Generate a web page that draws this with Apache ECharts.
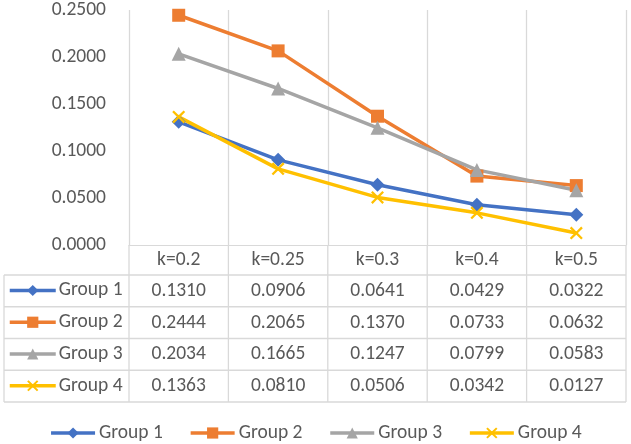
<!DOCTYPE html>
<html>
<head>
<meta charset="utf-8">
<script src="https://cdn.jsdelivr.net/npm/echarts@6/dist/echarts.min.js"></script>
<style>
  html, body { margin: 0; padding: 0; background: #ffffff; }
  #chart { width: 631px; height: 444px; }
</style>
</head>
<body>
<div id="chart"></div>
<script>
const categories = ['k=0.2', 'k=0.25', 'k=0.3', 'k=0.4', 'k=0.5'];
const seriesNames = ['Group 1', 'Group 2', 'Group 3', 'Group 4'];
const group1 = [0.1310, 0.0906, 0.0641, 0.0429, 0.0322];
const group2 = [0.2444, 0.2065, 0.1370, 0.0733, 0.0632];
const group3 = [0.2034, 0.1665, 0.1247, 0.0799, 0.0583];
const group4 = [0.1363, 0.0810, 0.0506, 0.0342, 0.0127];
const yTicks = [0, 0.05, 0.10, 0.15, 0.20, 0.25];

const seriesData = [group1, group2, group3, group4];
const colors = ['#4472C4', '#ED7D31', '#A5A5A5', '#FFC000'];
const xPath = 'path://M0,1.5L1.5,0L6,4.5L10.5,0L12,1.5L7.5,6L12,10.5L10.5,12L6,7.5L1.5,12L0,10.5L4.5,6Z';
const symbols = ['diamond', 'rect', 'triangle', xPath];
const symbolSizes = [14, 13, 14, 13];

const FONT = 'Carlito, Lato, sans-serif';
const FS = 19.5;
const TEXT = '#595959';
const GRIDC = '#D9D9D9';

const chart = echarts.init(document.getElementById('chart'), null, { renderer: 'canvas' });

const option = {
  animation: false,
  backgroundColor: '#ffffff',
  textStyle: { fontFamily: FONT },
  grid: { left: 129, right: 5, top: 7.5, bottom: 199, containLabel: false },
  xAxis: {
    type: 'category',
    data: categories,
    boundaryGap: true,
    axisLine: { show: true, lineStyle: { color: GRIDC, width: 1 } },
    axisTick: { show: false },
    axisLabel: { color: TEXT, fontSize: FS, fontFamily: FONT, margin: 15, verticalAlign: 'middle' },
    splitLine: { show: true, lineStyle: { color: GRIDC, width: 1.3 } }
  },
  yAxis: {
    type: 'value',
    min: yTicks[0],
    max: yTicks[yTicks.length - 1],
    interval: yTicks[1] - yTicks[0],
    axisLine: { show: false },
    axisTick: { show: false },
    splitLine: { show: false },
    axisLabel: { color: TEXT, fontSize: FS, fontFamily: FONT, margin: 23, formatter: v => v.toFixed(4) }
  },
  legend: [
    {
      data: seriesNames,
      orient: 'vertical',
      left: 8,
      top: 280.5,
      padding: 0,
      itemWidth: 46,
      itemHeight: 14,
      itemGap: 11.75,
      lineStyle: { width: 3.5 },
      textStyle: { color: TEXT, fontSize: FS, fontFamily: FONT, lineHeight: 20, padding: [0, 0, 0, -2] }
    },
    {
      data: seriesNames,
      orient: 'horizontal',
      left: 'center',
      top: 423,
      padding: 0,
      itemWidth: 44,
      itemHeight: 14,
      itemGap: 26,
      lineStyle: { width: 3.5 },
      textStyle: { color: TEXT, fontSize: FS, fontFamily: FONT, lineHeight: 20, padding: [0, 0, 0, -1] }
    }
  ],
  series: seriesNames.map((name, i) => ({
    name: name,
    type: 'line',
    data: seriesData[i],
    symbol: symbols[i],
    symbolSize: symbolSizes[i],
    showAllSymbol: true,
    lineStyle: { color: colors[i], width: 3.5 },
    itemStyle: { color: colors[i], borderWidth: 0 },
    emphasis: { disabled: true }
  }))
};

chart.setOption(option);

// Build the data table below the plot from the same arrays
const xs = categories.map((c, i) => chart.convertToPixel({ xAxisIndex: 0 }, i));
const colW = xs[1] - xs[0];
const bounds = xs.map(x => x - colW / 2).concat([xs[xs.length - 1] + colW / 2]);
const axisY = chart.convertToPixel({ yAxisIndex: 0 }, 0);
const rowTop = 275;
const rowH = 31.75;
const tableBottom = rowTop + rowH * seriesNames.length;
const leftEdge = 4;

const g = [];
bounds.forEach(x => {
  g.push({ type: 'line', shape: { x1: x, y1: axisY, x2: x, y2: tableBottom }, style: { stroke: GRIDC, lineWidth: 1.3 }, silent: true });
});
g.push({ type: 'line', shape: { x1: leftEdge, y1: rowTop, x2: leftEdge, y2: tableBottom }, style: { stroke: GRIDC, lineWidth: 1.3 }, silent: true });
for (let r = 0; r <= seriesNames.length; r++) {
  const y = rowTop + rowH * r;
  g.push({ type: 'line', shape: { x1: leftEdge, y1: y, x2: bounds[bounds.length - 1], y2: y }, style: { stroke: GRIDC, lineWidth: 1.3 }, silent: true });
}
seriesData.forEach((arr, i) => {
  arr.forEach((v, j) => {
    g.push({
      type: 'text',
      x: xs[j],
      y: rowTop + rowH * (i + 0.5),
      style: { text: v.toFixed(4), fill: TEXT, font: FS + 'px ' + FONT, align: 'center', verticalAlign: 'middle' },
      silent: true
    });
  });
});

chart.setOption({ graphic: g });
</script>
</body>
</html>
